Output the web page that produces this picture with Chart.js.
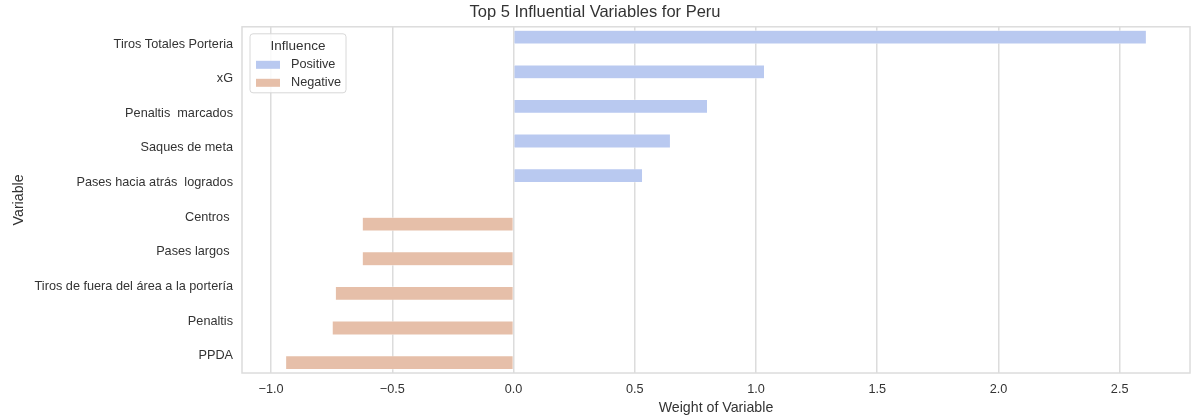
<!DOCTYPE html>
<html lang="en">
<head>
    <meta charset="UTF-8">
    <title>Top 5 Influential Variables for Peru</title>
    <script src="https://cdn.jsdelivr.net/npm/chart.js"></script>
    <style>
        body {
            margin: 0;
            background: #fff;
        }
        #wrap {
            width: 1197px;
            height: 415px;
        }
    </style>
</head>
<body>

    <div id="wrap"><canvas id="influenceChart"></canvas></div>

    <script>
        // Variables, top to bottom as in the plot
        const variables = [
            'Tiros Totales Porteria', 'xG', 'Penaltis  marcados', 'Saques de meta',
            'Pases hacia atrás  logrados', 'Centros ', 'Pases largos ',
            'Tiros de fuera del área a la portería', 'Penaltis', 'PPDA'
        ];
        const positiveWeights = [2.61, 1.035, 0.80, 0.647, 0.532, null, null, null, null, null];
        const negativeWeights = [null, null, null, null, null, -0.624, -0.624, -0.735, -0.748, -0.94];
        const xTicks = [-1.0, -0.5, 0.0, 0.5, 1.0, 1.5, 2.0, 2.5];

        const posColor = '#b9c9f0';
        const negColor = '#e6bfa9';
        const textColor = '#333333';
        const gridColor = '#dcdcdc';
        const fontFamily = '"Liberation Sans", Arial, sans-serif';

        // frame around the plot + legend with title inside the axes (seaborn style)
        const framePlugin = {
            id: 'frameAndLegend',
            afterDraw(chart) {
                const { ctx, chartArea: a } = chart;
                ctx.save();
                ctx.strokeStyle = gridColor;
                ctx.lineWidth = 1.5;
                ctx.strokeRect(a.left, a.top, a.right - a.left, a.bottom - a.top);

                const x = a.left + 8, y = a.top + 7, w = 96, h = 59;
                ctx.fillStyle = 'rgba(255,255,255,0.85)';
                ctx.strokeStyle = '#d8d8d8';
                ctx.lineWidth = 1;
                ctx.beginPath();
                ctx.roundRect(x, y, w, h, 3);
                ctx.fill();
                ctx.stroke();

                ctx.fillStyle = textColor;
                ctx.font = '13.5px ' + fontFamily;
                ctx.textAlign = 'center';
                ctx.textBaseline = 'middle';
                ctx.fillText('Influence', x + w / 2, y + 12);

                ctx.font = '12.7px ' + fontFamily;
                ctx.textAlign = 'left';
                chart.data.datasets.forEach((ds, i) => {
                    const ry = y + 31 + i * 18;
                    ctx.fillStyle = ds.backgroundColor;
                    ctx.fillRect(x + 6, ry - 4, 24, 8);
                    ctx.fillStyle = textColor;
                    ctx.fillText(ds.label, x + 41, ry);
                });
                ctx.restore();
            }
        };

        const ctx = document.getElementById('influenceChart').getContext('2d');
        const chart = new Chart(ctx, {
            type: 'bar',
            data: {
                labels: variables,
                datasets: [
                    {
                        label: 'Positive',
                        data: positiveWeights,
                        backgroundColor: posColor,
                        borderColor: '#ffffff',
                        borderWidth: 0.5
                    },
                    {
                        label: 'Negative',
                        data: negativeWeights,
                        backgroundColor: negColor,
                        borderColor: '#ffffff',
                        borderWidth: 0.5
                    }
                ]
            },
            options: {
                indexAxis: 'y',
                responsive: true,
                maintainAspectRatio: false,
                animation: false,
                categoryPercentage: 0.8,
                barPercentage: 1.0,
                skipNull: false,
                layout: {
                    padding: { left: 0, right: 7, top: 0, bottom: 0 }
                },
                plugins: {
                    legend: { display: false },
                    tooltip: { enabled: false },
                    title: {
                        display: true,
                        text: 'Top 5 Influential Variables for Peru',
                        color: textColor,
                        font: { family: fontFamily, size: 16.5, weight: 'normal' },
                        padding: { top: 3, bottom: 4 }
                    }
                },
                scales: {
                    x: {
                        type: 'linear',
                        min: -1.12,
                        max: 2.79,
                        afterBuildTicks(axis) {
                            axis.ticks = xTicks.map(v => ({ value: v }));
                        },
                        afterFit(scale) {
                            scale.height = 42;
                        },
                        ticks: {
                            color: textColor,
                            font: { family: fontFamily, size: 12.7 },
                            padding: 9,
                            callback: v => v.toFixed(1).replace('-', '\u2212')
                        },
                        grid: {
                            color: gridColor,
                            lineWidth: 1.5,
                            drawTicks: false
                        },
                        border: { display: false },
                        title: {
                            display: true,
                            text: 'Weight of Variable',
                            color: textColor,
                            font: { family: fontFamily, size: 14.2 },
                            padding: { top: 0, bottom: -2 }
                        }
                    },
                    y: {
                        afterFit(scale) {
                            scale.width = 242;
                        },
                        ticks: {
                            color: textColor,
                            font: { family: fontFamily, size: 12.7 },
                            padding: 9
                        },
                        grid: { display: false, drawTicks: false },
                        border: { display: false },
                        title: {
                            display: true,
                            text: 'Variable',
                            color: textColor,
                            font: { family: fontFamily, size: 14.2 },
                            padding: { top: 11, bottom: 11 }
                        }
                    }
                }
            },
            plugins: [framePlugin]
        });
    </script>
</body>
</html>
